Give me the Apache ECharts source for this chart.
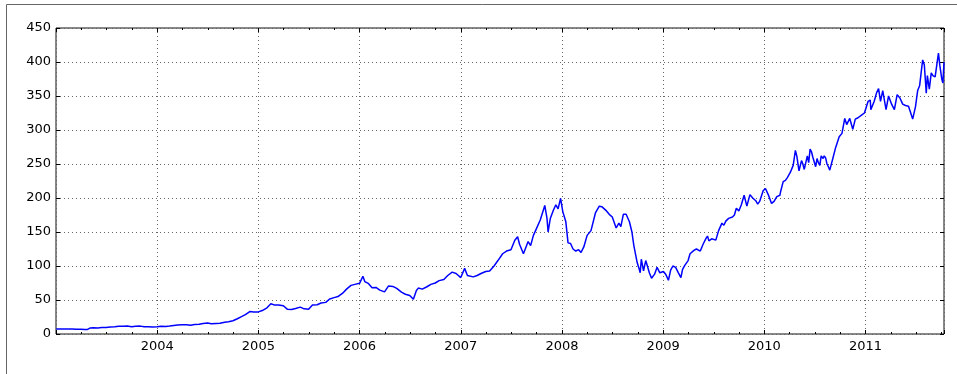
<!DOCTYPE html>
<html>
<head>
<meta charset="utf-8">
<script src="https://cdn.jsdelivr.net/npm/echarts@6/dist/echarts.min.js"></script>
<style>
html,body{margin:0;padding:0;background:#fff;}
#chart{width:957px;height:374px;}
</style>
</head>
<body>
<div id="chart"></div>
<script>
// ---- data ----
const dates = [
'2003-01-02','2003-01-15','2003-02-01','2003-02-15','2003-03-01','2003-03-15','2003-04-01','2003-04-15','2003-04-25','2003-05-05',
'2003-05-15','2003-06-01','2003-06-15','2003-07-01','2003-07-15','2003-08-01','2003-08-15','2003-09-01','2003-09-15','2003-10-01',
'2003-10-15','2003-11-01','2003-11-15','2003-12-01','2003-12-15',
'2004-01-01','2004-01-15','2004-02-01','2004-02-15','2004-03-01','2004-03-15','2004-04-01','2004-04-15','2004-05-01','2004-05-15',
'2004-06-01','2004-06-15','2004-07-01','2004-07-15','2004-08-01','2004-08-15','2004-09-01','2004-09-15','2004-10-01','2004-10-15',
'2004-11-01','2004-11-15','2004-12-01','2004-12-15',
'2005-01-01','2005-01-15','2005-02-01','2005-02-15','2005-03-01','2005-03-15','2005-04-01','2005-04-15','2005-05-01','2005-05-15',
'2005-06-01','2005-06-15','2005-07-01','2005-07-15','2005-08-01','2005-08-15','2005-09-01','2005-09-15','2005-10-01','2005-10-15',
'2005-11-01','2005-11-15','2005-12-01','2005-12-15',
'2006-01-01','2006-01-13','2006-01-20','2006-02-01','2006-02-15','2006-03-01','2006-03-15','2006-04-01','2006-04-15','2006-05-01',
'2006-05-15','2006-06-01','2006-06-15','2006-07-01','2006-07-14','2006-07-25','2006-08-01','2006-08-15','2006-09-01','2006-09-15',
'2006-10-01','2006-10-15','2006-11-01','2006-11-15','2006-12-01','2006-12-15',
'2007-01-01','2007-01-15','2007-01-25','2007-02-01','2007-02-15','2007-03-01','2007-03-15','2007-04-01','2007-04-15','2007-05-01',
'2007-05-15','2007-06-01','2007-06-15','2007-07-01','2007-07-15','2007-07-25','2007-08-01','2007-08-15','2007-09-01','2007-09-10',
'2007-09-20','2007-10-01','2007-10-15','2007-10-31','2007-11-08','2007-11-12','2007-11-20','2007-12-01','2007-12-10','2007-12-18',
'2007-12-27',
'2008-01-04','2008-01-15','2008-01-23','2008-02-01','2008-02-10','2008-02-20','2008-03-01','2008-03-10','2008-03-20','2008-04-01',
'2008-04-15','2008-05-01','2008-05-15','2008-05-25','2008-06-01','2008-06-10','2008-06-20','2008-07-01','2008-07-15','2008-07-25',
'2008-08-01','2008-08-10','2008-08-20','2008-09-01','2008-09-10','2008-09-17','2008-09-29','2008-10-06','2008-10-10','2008-10-14',
'2008-10-22','2008-10-30','2008-11-05','2008-11-12','2008-11-20','2008-12-01','2008-12-10','2008-12-20',
'2009-01-02','2009-01-10','2009-01-20','2009-01-28','2009-02-05','2009-02-15','2009-02-25','2009-03-06','2009-03-12','2009-03-20',
'2009-04-01','2009-04-08','2009-04-15','2009-04-22','2009-05-01','2009-05-15','2009-05-25','2009-06-05','2009-06-10','2009-06-15',
'2009-06-25','2009-07-01','2009-07-10','2009-07-20','2009-08-01','2009-08-08','2009-08-15','2009-08-25','2009-09-01','2009-09-08',
'2009-09-15','2009-09-22','2009-10-01','2009-10-10','2009-10-20','2009-10-30','2009-11-10','2009-11-20','2009-12-01','2009-12-08',
'2009-12-15','2009-12-28',
'2010-01-05','2010-01-15','2010-01-27','2010-02-05','2010-02-15','2010-02-26','2010-03-01','2010-03-10','2010-03-18','2010-03-25',
'2010-04-05','2010-04-15','2010-04-23','2010-04-28','2010-05-06','2010-05-15','2010-05-20','2010-05-25','2010-06-05','2010-06-10',
'2010-06-15','2010-06-20','2010-06-25','2010-07-05','2010-07-10','2010-07-15','2010-07-20','2010-07-25','2010-08-01','2010-08-05',
'2010-08-10','2010-08-15','2010-08-20','2010-08-25','2010-09-05','2010-09-15','2010-09-28','2010-10-08','2010-10-18','2010-10-25',
'2010-11-05','2010-11-16','2010-11-25','2010-12-05','2010-12-15','2010-12-28',
'2011-01-10','2011-01-18','2011-01-20','2011-02-01','2011-02-10','2011-02-17','2011-02-24','2011-03-04','2011-03-16','2011-03-25',
'2011-04-05','2011-04-15','2011-04-25','2011-05-05','2011-05-15','2011-05-25','2011-06-05','2011-06-13','2011-06-20','2011-06-30',
'2011-07-08','2011-07-15','2011-07-26','2011-08-01','2011-08-08','2011-08-12','2011-08-19','2011-08-26','2011-09-01','2011-09-09',
'2011-09-21','2011-09-26','2011-10-03','2011-10-07','2011-10-11'
];
const prices = [
7.2,7.3,7.4,7.5,7.3,7.0,7.1,6.6,6.8,9.0,
9.2,9.0,9.4,9.6,10.2,10.6,11.3,11.5,11.6,10.6,
11.5,11.6,10.5,10.5,10.3,
10.7,11.4,11.2,11.8,12.6,13.2,13.5,13.7,13.0,13.8,
14.2,15.5,16.2,15.2,15.6,15.8,17.3,18.0,19.5,22.0,
25.5,28.5,33.0,32.5,
32.5,34.5,38.5,44.5,42.5,42.8,41.5,36.5,36.0,37.5,
39.5,37.0,36.5,42.5,43.0,45.5,46.5,51.5,53.5,55.0,
60.0,66.0,71.5,73.0,
74.5,85.0,77.0,74.5,68.0,68.5,64.5,62.0,70.5,70.0,
67.0,61.5,58.5,56.5,51.0,64.0,67.5,66.0,69.5,73.0,
75.0,78.5,80.0,86.0,91.0,89.0,
83.0,96.5,86.0,85.0,84.0,86.0,89.0,92.0,92.5,100.0,
108.0,118.0,122.0,124.0,138.0,143.0,132.0,118.0,136.0,130.0,
145.0,155.0,168.0,189.0,170.0,150.0,170.0,182.0,190.0,184.0,
199.5,
180.0,165.0,134.0,133.0,125.0,122.0,124.0,120.0,128.0,145.0,
152.0,178.0,188.0,187.0,188.0,181.0,176.0,172.0,156.0,163.0,
158.0,176.0,176.0,165.0,150.0,130.0,105.0,96.0,90.0,110.0,
93.0,108.0,100.0,90.0,82.0,88.0,98.0,90.0,
92.0,88.0,79.0,94.0,100.0,98.0,90.0,83.0,95.0,101.0,
108.0,118.0,120.0,123.0,125.0,122.0,132.0,141.0,144.0,137.0,
140.0,142.0,138.0,152.0,163.0,160.0,166.0,170.0,168.0,172.0,
175.0,185.0,181.0,190.0,204.0,188.0,205.0,200.0,196.0,191.0,
195.0,211.0,
214.0,205.0,192.0,195.0,202.0,204.0,210.0,224.0,226.0,230.0,
238.0,248.0,270.0,262.0,240.0,255.0,250.0,242.0,262.0,252.0,
272.0,268.0,260.0,246.0,258.0,252.0,248.0,262.0,258.0,262.0,
259.0,250.0,246.0,241.0,258.0,274.0,290.0,295.0,317.0,308.0,
317.0,301.0,316.0,318.0,321.0,325.0,
342.0,344.0,330.0,342.0,355.0,361.0,342.0,358.0,330.0,350.0,
338.0,330.0,352.0,347.0,338.0,336.0,335.0,325.0,316.0,334.0,
358.0,365.0,403.0,396.0,354.0,380.0,360.0,384.0,380.0,378.0,
413.0,395.0,375.0,369.0,400.0
];
const yearTicks = [2004, 2005, 2006, 2007, 2008, 2009, 2010, 2011];
const yMin = 0, yMax = 450, yStep = 50;

// ---- helpers ----
function toYear(d) {
  const p = d.split('-').map(Number);
  const s = Date.UTC(p[0], 0, 1), e = Date.UTC(p[0] + 1, 0, 1);
  return p[0] + (Date.UTC(p[0], p[1] - 1, p[2]) - s) / (e - s);
}
const seriesData = dates.map((d, i) => [toYear(d), prices[i]]);
const xMin = 2003;
const xMax = toYear(dates[dates.length - 1]);
const FONT = 'DejaVu Sans';
const dotted = { color: '#666', width: 1, type: [1, 3] };

function xAx(pos, interval, tickLen, labels, grid) {
  return {
    type: 'value', position: pos, min: xMin, max: xMax, interval: interval,
    axisLine: { show: false },
    axisTick: { show: true, inside: true, length: tickLen, lineStyle: { color: '#000', width: 1 } },
    axisLabel: {
      show: labels, margin: 6, fontFamily: FONT, fontSize: 13, color: '#000',
      formatter: v => (yearTicks.indexOf(Math.round(v)) >= 0 && Math.abs(v - Math.round(v)) < 1e-6) ? String(Math.round(v)) : ''
    },
    splitLine: { show: grid, lineStyle: dotted }
  };
}

const chart = echarts.init(document.getElementById('chart'), null, { renderer: 'canvas' });
chart.setOption({
  animation: false,
  backgroundColor: '#fff',
  graphic: [{
    type: 'rect', left: 4, top: 2, silent: true,
    shape: { x: 0, y: 0, width: 1000, height: 500 },
    style: { fill: 'none', stroke: '#666', lineWidth: 1 }
  }],
  grid: { left: 56, right: 13, top: 28, bottom: 40, show: true, borderColor: '#111', borderWidth: 1, backgroundColor: 'transparent' },
  xAxis: [
    xAx('bottom', 1, 4, true, true),
    xAx('bottom', 0.25, 2, false, false),
    xAx('top', 1, 4, false, false),
    xAx('top', 0.25, 2, false, false)
  ],
  yAxis: [
    {
      type: 'value', position: 'left', min: yMin, max: yMax, interval: yStep,
      axisLine: { show: false },
      axisTick: { show: true, inside: true, length: 4, lineStyle: { color: '#000' } },
      axisLabel: { margin: 5, fontFamily: FONT, fontSize: 13, color: '#000' },
      splitLine: { show: true, lineStyle: dotted }
    },
    {
      type: 'value', position: 'right', min: yMin, max: yMax, interval: yStep,
      axisLine: { show: false },
      axisTick: { show: true, inside: true, length: 4, lineStyle: { color: '#000' } },
      axisLabel: { show: false },
      splitLine: { show: false }
    }
  ],
  series: [{
    type: 'line', xAxisIndex: 0, yAxisIndex: 0, data: seriesData,
    showSymbol: false, symbol: 'none',
    lineStyle: { color: '#0000ff', width: 1.5 },
    z: 5
  }]
});
</script>
</body>
</html>
